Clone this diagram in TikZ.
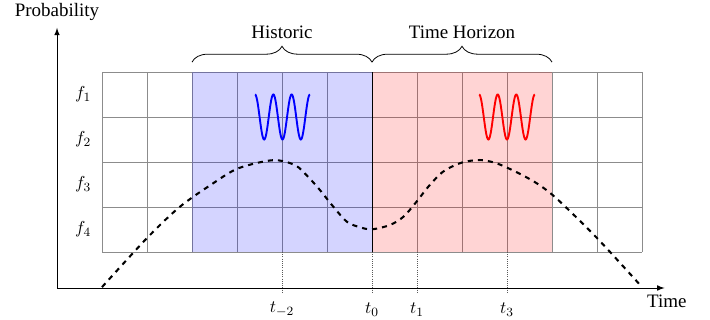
\documentclass[tikz,border=0pt]{standalone}
\usepackage{fontspec}
\setmainfont{Liberation Serif}
\usetikzlibrary{decorations.pathreplacing}
\begin{document}
\begin{tikzpicture}[
  gridline/.style={draw=gray!90, line width=0.5pt},
  bracedeco/.style={decorate, decoration={brace, amplitude=10pt}, line width=0.5pt},
  tickline/.style={densely dotted, line width=0.4pt, gray!70!black},
  wave/.style={line width=1.2pt, samples=120, smooth},
  lbl/.style={inner sep=1pt, font=\fontsize{11}{13}\selectfont},
  txt/.style={inner sep=1pt, font=\fontsize{12}{14}\selectfont},
  >=latex
]
\useasboundingbox (-2.267,-1.511) rectangle (13.511,5.6);
% grid
\draw[gridline] (0,0) grid (12,4);
\fill[blue, opacity=0.17] (2,0) rectangle (6,4);
\fill[red, opacity=0.17] (6,0) rectangle (10,4);
\draw[line width=0.6pt] (6,0) -- (6,4);
% row labels
\node[lbl] (f1) at (-0.42,3.5) {$f_1$};
\node[lbl] (f2) at (-0.42,2.5) {$f_2$};
\node[lbl] (f3) at (-0.42,1.5) {$f_3$};
\node[lbl] (f4) at (-0.42,0.5) {$f_4$};
% axes
\coordinate (O) at (-1,-0.8);
\coordinate (ytop) at (-1,4.98);
\coordinate (xend) at (12.5,-0.8);
\draw[->, line width=0.6pt] (O) -- (ytop);
\draw[->, line width=0.6pt] (O) -- (xend);
\node[txt] (prob) at (-1,5.33) {Probability};
\node[txt] (time) at (12.55,-1.1) {Time};
% ticks
\foreach \x/\name/\t in {4/tm2/{t_{-2}},6/t0/{t_0},7/t1/{t_1},9/t3/{t_3}}{
  \node[lbl] (\name) at (\x,-1.28) {$\t$};
  \draw[tickline] (\x,0) -- (\x,-0.9);
}
% braces
\coordinate (b1) at (2,4.22);
\coordinate (b2) at (6,4.22);
\coordinate (b3) at (10,4.22);
\draw[bracedeco] (b1) -- (b2);
\draw[bracedeco] (b2) -- (b3);
\node[txt] (hist) at (4,4.89) {Historic};
\node[txt] (hor) at (8,4.89) {Time Horizon};
% dashed probability curve
\draw[line width=1.3pt, dash pattern=on 3.2pt off 3.2pt, smooth, tension=0.5]
  plot coordinates {(0,-0.78) (1,0.31) (1.733,1.007) (2.47,1.527) (3.03,1.86) (3.8,2.04) (4.29,1.93) (4.58,1.67) (4.84,1.38) (5.14,1.007) (5.44,0.673) (5.73,0.55) (6.0,0.504) (6.4,0.6) (6.7,0.785) (6.99,1.118) (7.25,1.45) (7.58,1.785) (7.99,1.985) (8.4,2.044) (8.77,1.97) (9.22,1.77) (9.66,1.527) (10.1,1.19) (11,0.31) (12,-0.78)};
% waves
\draw[wave, blue] plot[domain=0:3] ({3.4+0.407*\x},{3+0.5*cos(360*\x)});
\draw[wave, red] plot[domain=0:3] ({8.38+0.413*\x},{3+0.5*cos(360*\x)});
\end{tikzpicture}
\end{document}
